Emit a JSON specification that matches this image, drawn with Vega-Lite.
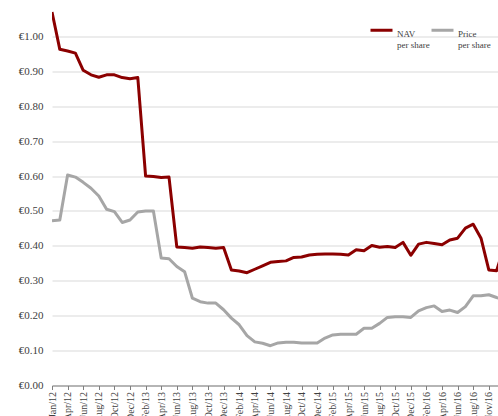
{
  "$schema": "https://vega.github.io/schema/vega-lite/v6.json",
  "width": 446,
  "height": 384,
  "autosize": {"type": "none"},
  "padding": {"left": 52, "top": 1.5, "right": 0, "bottom": 30.5},
  "background": "white",
  "config": {"view": {"stroke": null}, "font": "Liberation Serif"},
  "data": {"values": [
    {"m": "Jan/12", "NAV per share": 1.07, "Price per share": 0.472},
    {"m": "Mar/12", "NAV per share": 0.963, "Price per share": 0.474},
    {"m": "Apr/12", "NAV per share": 0.958, "Price per share": 0.603},
    {"m": "May/12", "NAV per share": 0.952, "Price per share": 0.597},
    {"m": "Jun/12", "NAV per share": 0.903, "Price per share": 0.582},
    {"m": "Jul/12", "NAV per share": 0.89, "Price per share": 0.565},
    {"m": "Aug/12", "NAV per share": 0.883, "Price per share": 0.543},
    {"m": "Sep/12", "NAV per share": 0.89, "Price per share": 0.505},
    {"m": "Oct/12", "NAV per share": 0.89, "Price per share": 0.498},
    {"m": "Nov/12", "NAV per share": 0.882, "Price per share": 0.467},
    {"m": "Dec/12", "NAV per share": 0.879, "Price per share": 0.474},
    {"m": "Jan/13", "NAV per share": 0.882, "Price per share": 0.497},
    {"m": "Feb/13", "NAV per share": 0.6, "Price per share": 0.5},
    {"m": "Mar/13", "NAV per share": 0.599, "Price per share": 0.5},
    {"m": "Apr/13", "NAV per share": 0.596, "Price per share": 0.365},
    {"m": "May/13", "NAV per share": 0.597, "Price per share": 0.363},
    {"m": "Jun/13", "NAV per share": 0.397, "Price per share": 0.341},
    {"m": "Jul/13", "NAV per share": 0.395, "Price per share": 0.326},
    {"m": "Aug/13", "NAV per share": 0.393, "Price per share": 0.25},
    {"m": "Sep/13", "NAV per share": 0.397, "Price per share": 0.24},
    {"m": "Oct/13", "NAV per share": 0.395, "Price per share": 0.236},
    {"m": "Nov/13", "NAV per share": 0.393, "Price per share": 0.236},
    {"m": "Dec/13", "NAV per share": 0.395, "Price per share": 0.217},
    {"m": "Jan/14", "NAV per share": 0.331, "Price per share": 0.193},
    {"m": "Feb/14", "NAV per share": 0.328, "Price per share": 0.174},
    {"m": "Mar/14", "NAV per share": 0.323, "Price per share": 0.143},
    {"m": "Apr/14", "NAV per share": 0.333, "Price per share": 0.125},
    {"m": "May/14", "NAV per share": 0.343, "Price per share": 0.121},
    {"m": "Jun/14", "NAV per share": 0.353, "Price per share": 0.114},
    {"m": "Jul/14", "NAV per share": 0.355, "Price per share": 0.122},
    {"m": "Aug/14", "NAV per share": 0.357, "Price per share": 0.124},
    {"m": "Sep/14", "NAV per share": 0.367, "Price per share": 0.124},
    {"m": "Oct/14", "NAV per share": 0.368, "Price per share": 0.122},
    {"m": "Nov/14", "NAV per share": 0.374, "Price per share": 0.122},
    {"m": "Dec/14", "NAV per share": 0.376, "Price per share": 0.122},
    {"m": "Jan/15", "NAV per share": 0.377, "Price per share": 0.136},
    {"m": "Feb/15", "NAV per share": 0.377, "Price per share": 0.145},
    {"m": "Mar/15", "NAV per share": 0.376, "Price per share": 0.147},
    {"m": "Apr/15", "NAV per share": 0.374, "Price per share": 0.147},
    {"m": "May/15", "NAV per share": 0.389, "Price per share": 0.147},
    {"m": "Jun/15", "NAV per share": 0.386, "Price per share": 0.164},
    {"m": "Jul/15", "NAV per share": 0.401, "Price per share": 0.164},
    {"m": "Aug/15", "NAV per share": 0.396, "Price per share": 0.178},
    {"m": "Sep/15", "NAV per share": 0.398, "Price per share": 0.195},
    {"m": "Oct/15", "NAV per share": 0.395, "Price per share": 0.197},
    {"m": "Nov/15", "NAV per share": 0.41, "Price per share": 0.197},
    {"m": "Dec/15", "NAV per share": 0.373, "Price per share": 0.195},
    {"m": "Jan/16", "NAV per share": 0.405, "Price per share": 0.214},
    {"m": "Feb/16", "NAV per share": 0.41, "Price per share": 0.223},
    {"m": "Mar/16", "NAV per share": 0.407, "Price per share": 0.228},
    {"m": "Apr/16", "NAV per share": 0.403, "Price per share": 0.212},
    {"m": "May/16", "NAV per share": 0.417, "Price per share": 0.216},
    {"m": "Jun/16", "NAV per share": 0.422, "Price per share": 0.209},
    {"m": "Jul/16", "NAV per share": 0.451, "Price per share": 0.226},
    {"m": "Aug/16", "NAV per share": 0.462, "Price per share": 0.257},
    {"m": "Sep/16", "NAV per share": 0.422, "Price per share": 0.257},
    {"m": "Nov/16", "NAV per share": 0.331, "Price per share": 0.26},
    {"m": "Dec/16", "NAV per share": 0.329, "Price per share": 0.252},
    {"m": "Jan/17", "NAV per share": 0.4, "Price per share": 0.245}
  ]},
  "transform": [{"fold": ["NAV per share", "Price per share"], "as": ["series", "value"]}],
  "mark": {"type": "line", "strokeWidth": 3, "clip": true, "strokeJoin": "round"},
  "encoding": {
    "x": {
      "field": "m", "type": "ordinal", "sort": null,
      "scale": {"type": "point", "padding": 0, "range": [0, 452.4]},
      "axis": {
        "values": ["Jan/12","Apr/12","Jun/12","Aug/12","Oct/12","Dec/12","Feb/13","Apr/13","Jun/13","Aug/13","Oct/13","Dec/13","Feb/14","Apr/14","Jun/14","Aug/14","Oct/14","Dec/14","Feb/15","Apr/15","Jun/15","Aug/15","Oct/15","Dec/15","Feb/16","Apr/16","Jun/16","Aug/16","Nov/16"],
        "labelAngle": -90, "title": null, "grid": false,
        "domainColor": "#7f7f7f", "tickColor": "#7f7f7f", "tickSize": 4,
        "labelFont": "Liberation Serif, DejaVu Serif, serif", "labelFontSize": 10, "labelPadding": 2, "labelColor": "#404040"
      }
    },
    "y": {
      "field": "value", "type": "quantitative",
      "scale": {"domain": [0, 1.1], "nice": false},
      "axis": {
        "values": [0, 0.1, 0.2, 0.3, 0.4, 0.5, 0.6, 0.7, 0.8, 0.9, 1.0],
        "labelExpr": "'€' + format(datum.value, '.2f')",
        "domain": false, "ticks": false, "labelPadding": 9, "title": null,
        "labelFont": "Liberation Serif, DejaVu Serif, serif", "labelFontSize": 11, "labelColor": "#404040",
        "gridColor": "#d9d9d9", "gridWidth": 1
      }
    },
    "color": {
      "field": "series", "type": "nominal",
      "scale": {"domain": ["NAV per share", "Price per share"], "range": ["#8B0000", "#A6A6A6"]},
      "legend": {
        "orient": "none", "legendX": 317, "legendY": 16, "direction": "horizontal", "title": null,
        "symbolType": "stroke", "symbolSize": 484, "symbolStrokeWidth": 3,
        "labelFont": "Liberation Serif, DejaVu Serif, serif", "labelFontSize": 9, "labelColor": "#404040",
        "labelOffset": 3, "columnPadding": -5, "labelBaseline": "top",
        "labelExpr": "datum.label == 'NAV per share' ? ['NAV', 'per share'] : ['Price', 'per share']"
      }
    }
  }
}
